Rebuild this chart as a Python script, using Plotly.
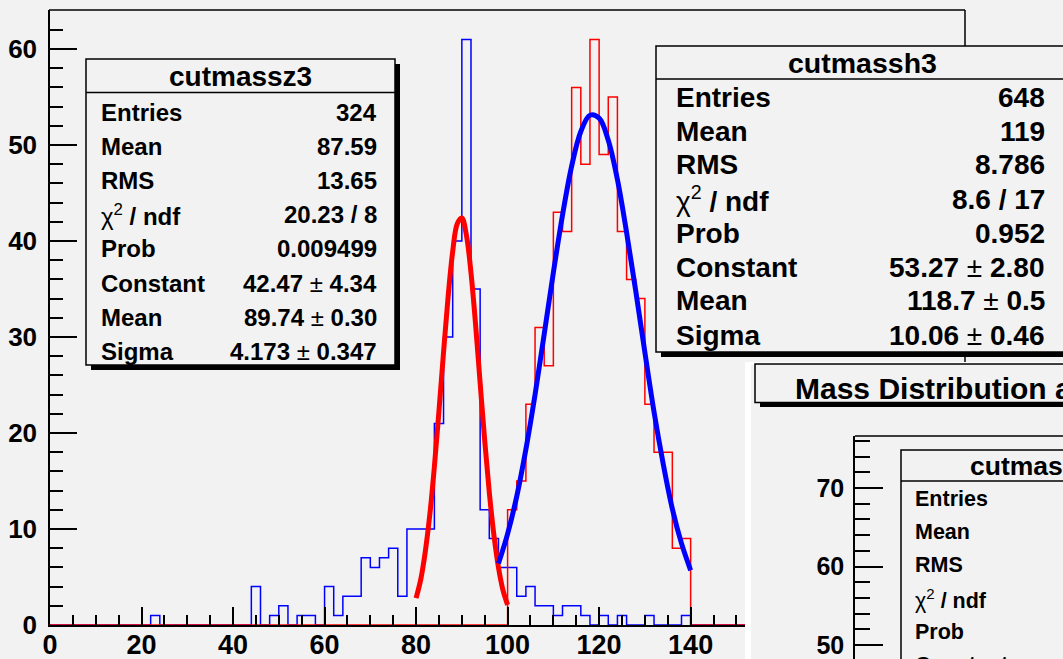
import plotly.graph_objects as go

W, H = 1063, 659
BG = "#f2f2f2"
FONT = "Liberation Sans, Arial, Helvetica, sans-serif"

# ---------------- data ----------------
BIN_WIDTH = 2
X_MAX = 200

# cutmassz3 (blue histogram) – non-empty bins: low edge -> entries
z_bin_low = [22, 44, 48, 50, 54, 56, 60, 62, 64, 66,
             68, 70, 72, 74, 76, 78, 80, 82, 84, 86,
             88, 90, 92, 94, 96, 98, 100, 102, 104, 106,
             108, 110, 112, 114, 116, 120, 124, 130, 138]
z_counts = [1, 4, 1, 2, 1, 1, 4, 1, 3, 3,
            7, 6, 7, 8, 3, 10, 10, 10, 21, 30,
            40, 61, 35, 12, 9, 6, 6, 3, 4, 2,
            2, 1, 2, 2, 1, 1, 1, 1, 1]

# cutmassh3 (red histogram) – non-empty bins
h_bin_low = [100, 102, 104, 106, 108, 110, 112, 114, 116, 118,
             120, 122, 124, 126, 128, 130, 132, 134, 136, 138]
h_counts = [12, 15, 23, 31, 27, 43, 41, 56, 48, 61,
            49, 55, 41, 36, 34, 23, 18, 18, 8, 9]

# Gaussian fit curves
z_fit_x = [80, 81, 82, 83, 84, 85, 86, 87, 88, 89, 90,
           91, 92, 93, 94, 95, 96, 97, 98, 99, 100]
z_fit_y = [2.8, 4.7, 7.6, 11.5, 16.5, 22.3, 28.4, 34.2, 38.9, 41.8, 42.4,
           40.6, 36.7, 31.3, 25.2, 19.2, 13.8, 9.4, 6.0, 3.6, 2.1]

h_fit_x = [98, 100, 102, 104, 106, 108, 110, 112, 114, 116, 118,
           120, 122, 124, 126, 128, 130, 132, 134, 136, 138, 140]
h_fit_y = [6.4, 9.5, 13.4, 18.3, 24.0, 30.3, 36.7, 42.7, 47.8, 51.4, 53.1,
           52.8, 50.5, 46.4, 40.9, 34.8, 28.4, 22.2, 16.8, 12.1, 8.5, 5.7]

# stat boxes
stat_labels = ["Entries", "Mean", "RMS", "χ² / ndf", "Prob", "Constant", "Mean", "Sigma"]
z_title = "cutmassz3"
z_values = ["324", "87.59", "13.65", "20.23 / 8", "0.009499",
            "42.47 ± 4.34", "89.74 ± 0.30", "4.173 ± 0.347"]
h_title = "cutmassh3"
h_values = ["648", "119", "8.786", "8.6 / 17", "0.952",
            "53.27 ± 2.80", "118.7 ± 0.5", "10.06 ± 0.46"]
pad2_title = "Mass Distribution after cuts"
pad2_stat_title = "cutmass"
pad2_labels = ["Entries", "Mean", "RMS", "χ² / ndf", "Prob", "Constant"]

x_ticks_main = [0, 20, 40, 60, 80, 100, 120, 140]
y_ticks_main = [0, 10, 20, 30, 40, 50, 60]
y_ticks_pad2 = [50, 60, 70]


# ---------------- helpers ----------------
def full_counts(lows, counts):
    n = X_MAX // BIN_WIDTH
    arr = [0] * n
    for lo, c in zip(lows, counts):
        arr[lo // BIN_WIDTH] = c
    return arr


def hist_xy(lows, counts):
    arr = full_counts(lows, counts)
    edges = [i * BIN_WIDTH for i in range(len(arr) + 1)]
    return edges, arr + [arr[-1]]


def fx(px):
    return px / W


def fy(py):
    return 1 - py / H


def fmt(s):
    # bold text, but χ and ± in a normal (symbol-like) weight
    s = s.replace("χ² / ndf", "χ<sup>2</sup><b> / ndf</b>")
    if "±" in s:
        a, b = s.split("±")
        return "<b>" + a.strip() + "</b> ± <b>" + b.strip() + "</b>"
    if s.startswith("χ"):
        return s
    return "<b>" + s + "</b>"


shapes = []
annotations = []


def line(x0, y0, x1, y1, w=1.5, layer="above"):
    shapes.append(dict(type="line", xref="paper", yref="paper",
                       x0=fx(x0), y0=fy(y0), x1=fx(x1), y1=fy(y1),
                       line=dict(color="black", width=w), layer=layer))


def rect(x0, y0, x1, y1, fill, border=None, w=1.5, layer="above"):
    shapes.append(dict(type="rect", xref="paper", yref="paper",
                       x0=fx(x0), y0=fy(y0), x1=fx(x1), y1=fy(y1),
                       fillcolor=fill,
                       line=dict(color=border if border else fill, width=w if border else 0),
                       layer=layer))


def text(x, y, s, size, anchor="left"):
    annotations.append(dict(xref="paper", yref="paper", x=fx(x), y=fy(y),
                            text=s, showarrow=False, xanchor=anchor, yanchor="middle",
                            borderpad=0,
                            font=dict(family=FONT, size=size, color="black")))


def stat_box(x0, y0, x1, y1, sep, title, title_x, title_size, labels, values,
             lab_x, val_x, row0, step, size, shadow=5, title_anchor="center"):
    rect(x0 + shadow, y0 + shadow, x1 + shadow, y1 + shadow, "black")
    rect(x0, y0, x1, y1, BG, "black", 1.5)
    line(x0, sep, x1, sep)
    text(title_x, (y0 + sep) / 2 + 0.5, "<b>" + title + "</b>", title_size, title_anchor)
    for i, lab in enumerate(labels):
        yy = row0 + i * step
        text(lab_x, yy, fmt(lab), size, "left")
        if values is not None:
            text(val_x, yy, fmt(values[i]), size, "right")


# ---------------- traces ----------------
fig = go.Figure()

zx, zy = hist_xy(z_bin_low, z_counts)
hx, hy = hist_xy(h_bin_low, h_counts)

fig.add_trace(go.Scatter(x=zx, y=zy, mode="lines", line=dict(color="#0000ff", width=1.5, shape="hv"),
                         name=z_title, showlegend=False, hoverinfo="skip"))
fig.add_trace(go.Scatter(x=hx, y=hy, mode="lines", line=dict(color="#ff0000", width=1.5, shape="hv"),
                         name=h_title, showlegend=False, hoverinfo="skip"))
fig.add_trace(go.Scatter(x=z_fit_x, y=z_fit_y, mode="lines",
                         line=dict(color="#ff0000", width=5, shape="spline"),
                         showlegend=False, hoverinfo="skip"))
fig.add_trace(go.Scatter(x=h_fit_x, y=h_fit_y, mode="lines",
                         line=dict(color="#0000ff", width=5, shape="spline"),
                         showlegend=False, hoverinfo="skip"))
# empty trace so the second pad's axes are drawn
fig.add_trace(go.Scatter(x=[], y=[], xaxis="x2", yaxis="y2", showlegend=False))

# ---------------- decorations ----------------
# main frame (top and right edges, partly hidden by other pads)
line(49, 10, 965, 10)
line(965, 10, 965, 46)
line(965, 352, 965, 362)

# second pad background (below the second subplot's axes)
rect(745, 362, 1063, 659, "white", layer="below")
rect(751, 365, 1063, 659, BG, layer="below")

# left stat box
stat_box(86, 59, 395, 365, 92.5, z_title, 240, 28, stat_labels, z_values,
         99.5, 378, 112, 34.2, 24)
# right stat box
stat_box(656, 46, 1068, 352, 79, h_title, 862, 28.5, stat_labels, h_values,
         674.5, 1046, 97, 34.0, 28)

# second pad title box
rect(760, 369, 1073, 407, "black")
rect(755, 364, 1068, 402.5, BG, "black", 1.5)
text(794, 388, "<b>" + pad2_title + "</b>", 30, "left")

# second pad frame top
line(855, 436, 1063, 436)

# second pad stat box
rect(901, 450, 1070, 700, BG, "black", 1.5)
line(901, 481, 1070, 481)
text(969, 466, "<b>" + pad2_stat_title + "</b>", 26.5, "left")
for i, lab in enumerate(pad2_labels):
    text(914, 499 + i * 33.2, fmt(lab), 21.5, "left")

# ---------------- layout ----------------
x_lo, x_hi = 0, (745 - 50) / 4.576
y_hi = (625 - 10) / 9.6
y2_lo = 50 - (659 - 645) / 7.83
y2_hi = 70 + (488 - 436) / 7.83

tickfont_main = dict(family=FONT, size=27, color="black", weight="bold")

fig.update_layout(
    width=W, height=H,
    margin=dict(l=0, r=0, t=0, b=0, pad=0),
    paper_bgcolor=BG, plot_bgcolor=BG,
    showlegend=False,
    shapes=shapes, annotations=annotations,
    xaxis=dict(domain=[fx(50), fx(745)], range=[x_lo, x_hi], anchor="y", automargin=False,
               showgrid=False, zeroline=False, showline=True, linecolor="black", linewidth=1.5,
               ticks="inside", ticklen=18, tickwidth=1.5, tickcolor="black",
               tickmode="array", tickvals=x_ticks_main, ticktext=[str(v) for v in x_ticks_main],
               minor=dict(ticks="inside", ticklen=10, tickwidth=1.5, tickcolor="black", dtick=5, tick0=0),
               tickfont=tickfont_main, ticklabelstandoff=-5),
    yaxis=dict(domain=[fy(625), fy(10)], range=[0, y_hi], anchor="x", automargin=False,
               showgrid=False, zeroline=False, showline=True, linecolor="black", linewidth=1.5,
               ticks="inside", ticklen=27, tickwidth=1.5, tickcolor="black",
               tickmode="array", tickvals=y_ticks_main, ticktext=[str(v) for v in y_ticks_main],
               minor=dict(ticks="inside", ticklen=13, tickwidth=1.5, tickcolor="black", dtick=2, tick0=0),
               tickfont=dict(family=FONT, size=26, color="black", weight="bold"), ticklabelstandoff=6),
    xaxis2=dict(domain=[fx(855), 1], range=[0, 1], anchor="y2", visible=False, automargin=False),
    yaxis2=dict(domain=[0, fy(436)], range=[y2_lo, y2_hi], anchor="x2", automargin=False,
                showgrid=False, zeroline=False, showline=True, linecolor="black", linewidth=1.5,
                ticks="inside", ticklen=28, tickwidth=1.5, tickcolor="black",
                tickmode="array", tickvals=y_ticks_pad2, ticktext=[str(v) for v in y_ticks_pad2],
                minor=dict(ticks="inside", ticklen=15, tickwidth=1.5, tickcolor="black", dtick=2, tick0=0),
                tickfont=dict(family=FONT, size=25, color="black", weight="bold"), ticklabelstandoff=4),
)

fig.write_html("out.html",
               config={"displayModeBar": False},
               post_script="document.body.style.margin='0';document.body.style.background='%s';" % BG)
